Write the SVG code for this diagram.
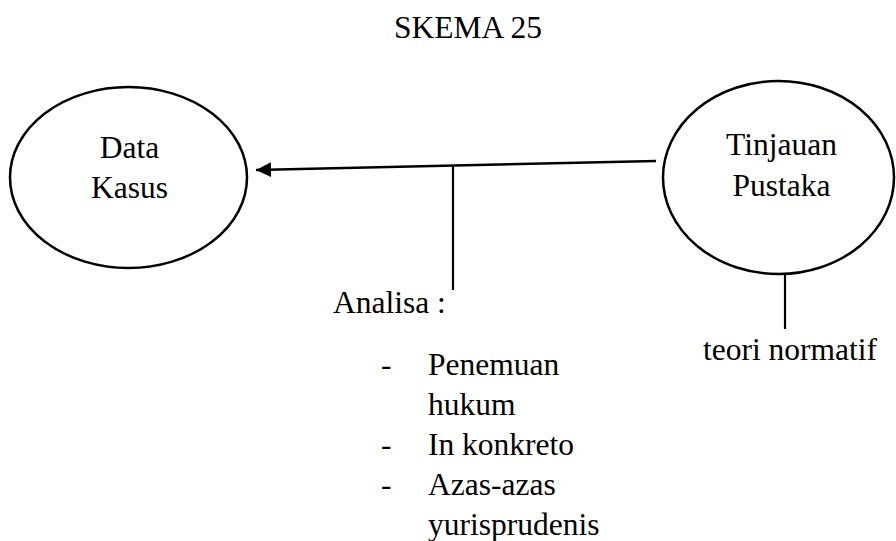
<svg xmlns="http://www.w3.org/2000/svg" width="896" height="541" viewBox="0 0 896 541">
<style>
.t{font-family:'Liberation Serif','DejaVu Serif',serif;font-size:31.5px;fill:#000}
.c{text-anchor:middle}
.node{fill:#fff;stroke:#000;stroke-width:2.5}
.ln{stroke:#000;fill:none}
</style>
<defs>
<marker id="ah" markerWidth="7" markerHeight="7" refX="6" refY="3" orient="auto" markerUnits="strokeWidth">
<path d="M0,0 L6,3 L0,6 z" fill="#000"/>
</marker>
</defs>
<rect width="896" height="541" fill="#fff"/>
<g class="t" font-family="Liberation Serif, serif">
<text class="c" x="468" y="38">SKEMA 25</text>
</g>
<g id="connectors">
<line class="ln" x1="656" y1="161" x2="256" y2="170" stroke-width="2.5" marker-end="url(#ah)"/>
<line class="ln" x1="453" y1="166" x2="453" y2="290" stroke-width="2.2"/>
<line class="ln" x1="785" y1="274" x2="785" y2="329" stroke-width="2.2"/>
</g>
<g id="data-kasus" class="t" font-family="Liberation Serif, serif">
<ellipse class="node" cx="128.5" cy="177.5" rx="118.5" ry="90.5"/>
<text class="c" x="129.5" y="158">Data</text>
<text class="c" x="129.5" y="198">Kasus</text>
</g>
<g id="tinjauan-pustaka" class="t" font-family="Liberation Serif, serif">
<ellipse class="node" cx="778.5" cy="177.5" rx="115.5" ry="96.5"/>
<text class="c" x="781.5" y="155">Tinjauan</text>
<text class="c" x="781.5" y="196">Pustaka</text>
</g>
<g id="teori" class="t" font-family="Liberation Serif, serif">
<text x="703" y="360">teori normatif</text>
</g>
<g id="analisa" class="t" font-family="Liberation Serif, serif">
<text x="333" y="313">Analisa :</text>
<text x="381" y="375">-</text>
<text x="428" y="375">Penemuan</text>
<text x="428" y="415">hukum</text>
<text x="381" y="455">-</text>
<text x="428" y="455">In konkreto</text>
<text x="381" y="495">-</text>
<text x="428" y="495">Azas-azas</text>
<text x="428" y="535">yurisprudenis</text>
</g>
</svg>
